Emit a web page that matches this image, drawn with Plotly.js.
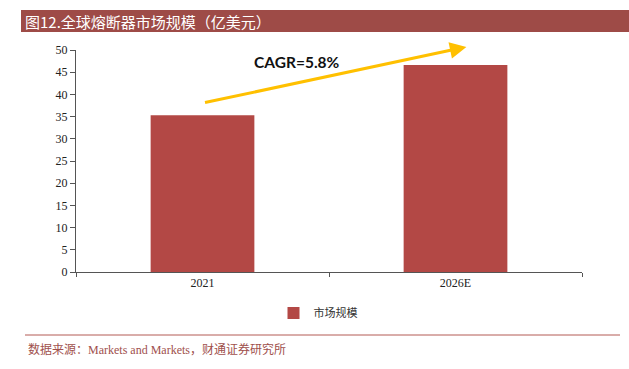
<!DOCTYPE html>
<html>
<head>
<meta charset="utf-8">
<script src="https://cdn.plot.ly/plotly-3.0.1.min.js"></script>
<style>html,body{margin:0;padding:0;background:#fff;}#chart{width:629px;height:369px;}</style>
</head>
<body>
<div id="chart"></div>
<script>
const categories = ["2021", "2026E"];
const marketSize = [35.3, 46.6];
const seriesName = "市场规模";
const yTicks = [0, 5, 10, 15, 20, 25, 30, 35, 40, 45, 50];
const titleText = "图12.全球熔断器市场规模（亿美元）";
const sourceText = "数据来源：Markets and Markets，财通证券研究所";
const cagrText = "CAGR=5.8%";

const W = 629, H = 369;
const M = {l: 76, r: 47, t: 50, b: 97};
const PW = W - M.l - M.r, PH = H - M.t - M.b;
const px = v => (v - M.l) / PW;
const py = v => (H - M.b - v) / PH;

const serifCJK = "Liberation Serif, Noto Sans CJK SC, serif";

const trace = {
  type: "bar",
  x: categories,
  y: marketSize,
  name: seriesName,
  width: 0.41,
  marker: {color: "#b34845"},
  hoverinfo: "none"
};

const layout = {
  width: W, height: H,
  margin: M,
  paper_bgcolor: "#fff",
  plot_bgcolor: "#fff",
  showlegend: true,
  legend: {
    orientation: "h",
    x: px(318), xanchor: "center",
    y: py(313), yanchor: "middle",
    font: {family: "Noto Sans CJK SC, serif", size: 11, color: "#333"},
    itemwidth: 30
  },
  xaxis: {
    type: "category",
    range: [-0.5, 1.5],
    showline: true, linecolor: "#555", linewidth: 1,
    ticks: "outside", tickson: "boundaries", ticklen: 4, tickcolor: "#555",
    showgrid: false, zeroline: false,
    tickfont: {family: serifCJK, size: 12, color: "#222"}
  },
  yaxis: {
    range: [0, 50],
    tickvals: yTicks,
    showline: true, linecolor: "#555", linewidth: 1,
    ticks: "outside", ticklen: 5, tickcolor: "#555",
    showgrid: false, zeroline: false,
    tickfont: {family: serifCJK, size: 12, color: "#222"}
  },
  shapes: [
    {type: "rect", xref: "paper", yref: "paper",
     x0: px(21), x1: px(629), y0: py(32), y1: py(10),
     fillcolor: "#9e4b47", line: {width: 0}, layer: "below"},
    {type: "line", xref: "paper", yref: "paper",
     x0: px(25), x1: px(620), y0: py(335), y1: py(335),
     line: {color: "#b35a55", width: 1}}
  ],
  annotations: [
    {xref: "paper", yref: "paper", x: px(23), y: py(21), xanchor: "left", yanchor: "middle",
     text: titleText, showarrow: false,
     font: {family: "Noto Sans CJK SC, serif", size: 15, color: "#fff"}},
    {xref: "paper", yref: "paper", x: px(26), y: py(349), xanchor: "left", yanchor: "middle",
     text: sourceText, showarrow: false,
     font: {family: serifCJK, size: 12, color: "#a0504c"}},
    {xref: "x", yref: "y", x: 1.043, y: 50.7, axref: "x", ayref: "y", ax: 0.004, ay: 38.1,
     text: "", showarrow: true, arrowhead: 2, arrowsize: 1.1, arrowwidth: 3, arrowcolor: "#ffc000",
     standoff: 0, startstandoff: 0},
    {xref: "x", yref: "y", x: 0.374, y: 47.3, text: "<b>" + cagrText + "</b>", showarrow: false,
     font: {family: "Lato, Open Sans, sans-serif", size: 15.5, color: "#111"}}
  ]
};

Plotly.newPlot("chart", [trace], layout, {staticPlot: true, displayModeBar: false});
</script>
</body>
</html>
